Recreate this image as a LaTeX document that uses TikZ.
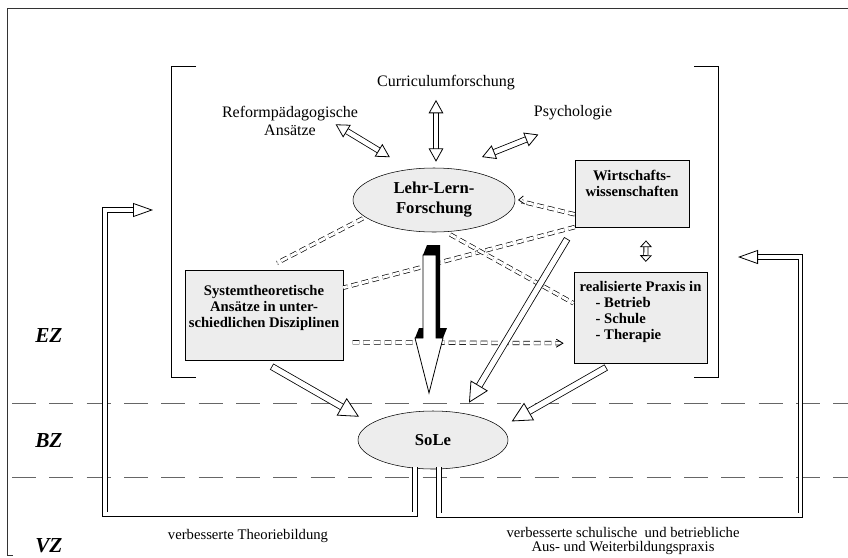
\documentclass[tikz,border=0pt]{standalone}
\usepackage{fontspec}
\setmainfont{Liberation Serif}
\usetikzlibrary{arrows.meta, positioning, shapes.geometric}

\begin{document}
\begin{tikzpicture}[
    x=0.75pt, y=-0.75pt,
    font=\fontsize{12}{14}\selectfont,
    field/.style={ellipse, draw, fill=black!7, align=center, inner sep=0pt,
                  font=\fontsize{12.5}{15}\selectfont\bfseries},
    area/.style={rectangle, draw, fill=black!7, inner sep=0pt,
                 font=\fontsize{11}{12}\selectfont\bfseries},
    txt/.style={align=center, inner sep=0pt},
    zone/.style={anchor=west, inner sep=0pt, font=\fontsize{16}{18}\selectfont\bfseries\itshape},
    zoneline/.style={black!60, dash pattern=on 18pt off 10pt, line width=0.6pt},
    hollow/.style={double=white, double distance=4pt, line width=0.6pt, line cap=rect,
                   -{Triangle[open, fill=white, length=15pt, width=15pt, line width=0.6pt]}},
    twoway/.style={double=white, double distance=3.5pt, line width=0.6pt,
                   {Triangle[open, fill=white, length=10pt, width=11pt, line width=0.6pt]}-{Triangle[open, fill=white, length=10pt, width=11pt, line width=0.6pt]}},
    feedback/.style={double=white, double distance=2.8pt, line width=0.6pt, line cap=rect,
                     -{Triangle[open, fill=white, length=15pt, width=10.5pt, line width=0.6pt]}},
    dlink/.style={double=white, double distance=2.2pt, line width=0.5pt,
                  dash pattern=on 5pt off 3pt},
    barb/.style={line width=0.6pt, solid}
]
\useasboundingbox (0,0) rectangle (848,557);

% === FRAME AND ZONES ===
\draw[black!80] (848,8) -- (7,8) -- (7,555) -- (13,555);
\draw[zoneline] (12,403) -- (848,403);
\draw[zoneline] (12,477) -- (848,477);
\draw (196,66) -- (171,66) -- (171,377) -- (196,377);
\draw (694,66) -- (718,66) -- (718,377) -- (694,377);

\node[zone] (ez) at (35,336) {EZ};
\node[zone] (bz) at (35,441) {BZ};
\node[zone] (vz) at (35,546) {VZ};

% === SOURCES ===
\node[txt] (curr) at (446,83) {Curriculumforschung};
\node[txt] (reform) at (290,121) {Reformpädagogische\\Ansätze};
\node[txt] (psych) at (573,113) {Psychologie};

\node[field, minimum width=121.5pt, minimum height=48pt] (llf) at (434,200) {Lehr-Lern-\\Forschung};
\node[area, minimum width=85.5pt, minimum height=50pt, align=center, text depth=15pt] (wiwi)
    at (632,193.5) {Wirtschafts-\\wissenschaften};
\node[area, minimum width=118.5pt, minimum height=67.5pt, align=center, text depth=13pt] (system)
    at (264,315) {Systemtheoretische\\Ansätze in unter-\\schiedlichen Disziplinen};
\node[area, minimum width=100pt, minimum height=68pt, align=left, text depth=10pt] (praxis)
    at (640.5,317.5)
    {realisierte Praxis in\\\hspace*{1.1em}- Betrieb\\\hspace*{1.1em}- Schule\\\hspace*{1.1em}- Therapie};

\node[field, minimum width=112.5pt, minimum height=43.5pt] (sole) at (433,440) {SoLe};

% === RESULTS ===
\node[txt, font=\fontsize{11}{11}\selectfont] (theorie) at (248,536) {verbesserte Theoriebildung};
\node[txt, font=\fontsize{11}{11}\selectfont] (bildung) at (623,541)
    {verbesserte schulische\ \ und betriebliche\\Aus- und Weiterbildungspraxis};

% === DASHED LINKS ===
\draw[dlink, shorten <=2pt, shorten >=11pt] (llf.194) -- (system.north);
\draw[dlink] (wiwi.south west) -- (system.19);
\draw[dlink, shorten >=5pt] (wiwi.200) -- (llf.east);
\draw[barb] ([shift={(7pt,-3pt)}]llf.east) -- ([shift={(2.5pt,0pt)}]llf.east) -- ([shift={(6pt,3pt)}]llf.east);
\draw[dlink, shorten <=4pt] (llf.290) -- (praxis.168);
\draw[dlink, shorten <=7pt, shorten >=10pt] (system.-19.5) -- (praxis.201);
\draw[barb] ([shift={(-13pt,3pt)}]praxis.201) -- ([shift={(-8pt,0pt)}]praxis.201) -- ([shift={(-13pt,-3pt)}]praxis.201);

% === BIG ARROW ===
\filldraw[fill=white, line width=0.6pt] (423,255) -- (436,255) -- (436,338) -- (443,338)
    -- (429,393) -- (415,338) -- (423,338) -- cycle;
\fill (423,255) -- (427,245) -- (440,245) -- (440,328) -- (447,328) -- (443,338)
    -- (436,338) -- (436,255) -- cycle;
\fill (415,338) -- (419,328) -- (423,328) -- (423,338) -- cycle;

% === HOLLOW ARROWS ===
\draw[twoway] ([shift={(-17pt,9pt)}]reform.south east) -- ([shift={(10pt,15pt)}]llf.north west);
\draw[twoway, shorten <=7pt] ([xshift=-7.5pt]curr.south) -- ([shift={(1.5pt,4.5pt)}]llf.north);
\draw[twoway] ([shift={(-26pt,-10.5pt)}]psych.south) -- ([shift={(36pt,8pt)}]llf.north);
\draw[twoway, double distance=2.5pt,
      {Triangle[open, fill=white, length=5pt, width=9pt, line width=0.6pt]}-{Triangle[open, fill=white, length=5pt, width=9pt, line width=0.6pt]}]
    ([shift={(10.5pt,-10pt)}]wiwi.south) -- ([shift={(4pt,7.5pt)}]praxis.north);

\draw[hollow] ([shift={(8pt,-6pt)}]system.south) -- ([shift={(-55.5pt,-4.5pt)}]sole.north);
\draw[hollow] ([shift={(-28pt,-4.5pt)}]praxis.south) -- ([shift={(59pt,-8pt)}]sole.north);
\draw[hollow] ([shift={(-7pt,-11pt)}]wiwi.south west) -- ([shift={(27pt,6pt)}]sole.north);

% === FEEDBACK ===
\coordinate (backL) at (153,210);
\coordinate (backR) at (738,257);
\draw[feedback] ([xshift=-13.5pt]sole.south) -- ++(0,45) -| (105,210) -- (backL);
\draw[feedback] ([xshift=4.5pt]sole.south) -- ++(0,46) -| (800.5,257) -- (backR);

\end{tikzpicture}
\end{document}
